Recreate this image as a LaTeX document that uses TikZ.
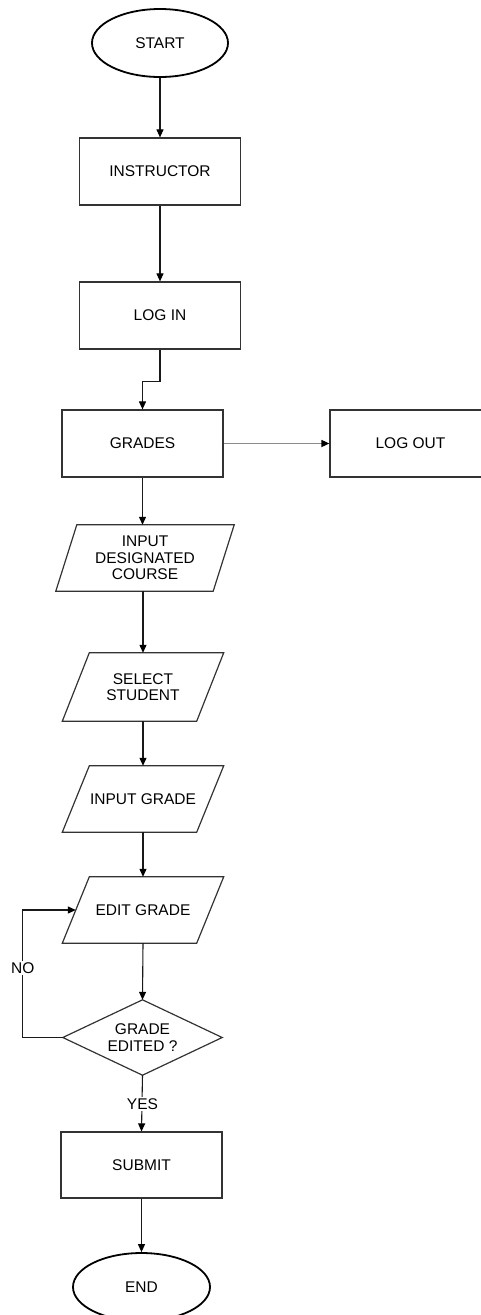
\documentclass[tikz,border=0pt]{standalone}
\usepackage{fontspec}
\setmainfont{Liberation Sans}
\usetikzlibrary{arrows.meta,shapes.geometric,calc}

\tikzset{
  base/.style={font=\fontsize{15.5}{16.5}\selectfont, text=black, align=center, inner sep=0pt},
  term/.style={base, ellipse, draw=black, line width=1.8pt, minimum width=136, minimum height=68},
  proc/.style={base, rectangle, draw=black!80, line width=1.2pt, minimum width=161, minimum height=67},
  io/.style={base, rectangle, minimum width=134, minimum height=66},
  outline/.style={draw=black!80, line width=1.2pt, line join=miter},
  arr/.style={draw=black!90, line width=1.1pt, -{Triangle[length=8pt,width=7pt,color=black]}},
  lbl/.style={base, fill=white, inner sep=1.5pt}
}

% slanted outline around an invisible rectangular node: name, half slant
\newcommand\slantbox[2]{%
  \draw[outline] ($(#1.north west)+(#2,0)$) -- ($(#1.north east)+(#2,0)$)
    -- ($(#1.south east)-(#2,0)$) -- ($(#1.south west)-(#2,0)$) -- cycle;}

\begin{document}
\begin{tikzpicture}[x=1pt, y=-1pt]
  \useasboundingbox (0,0) rectangle (480,1315);

  % terminals and process boxes
  \node[term] (start) at (160,43) {START};
  \node[proc] (instr) at (160,171.5) {INSTRUCTOR};
  \node[proc] (login) at (160,315.5) {LOG IN};
  \node[proc] (grades) at (142.5,443.5) {GRADES};
  \node[proc] (logout) at (410.5,443.5) {LOG OUT};

  % input / output steps
  \node[io, minimum width=157] (course) at (145,558) {INPUT\\DESIGNATED\\COURSE};
  \slantbox{course}{10.5}
  \node[io, minimum height=68] (select) at (143,687) {SELECT\\STUDENT};
  \slantbox{select}{13.5}
  \node[io] (ingrade) at (143,799) {INPUT GRADE};
  \slantbox{ingrade}{13.5}
  \node[io] (edit) at (143,910) {EDIT GRADE};
  \slantbox{edit}{13.5}

  % decision
  \node[base, minimum width=159, minimum height=75] (check) at (142.5,1037.5) {GRADE\\EDITED ?};
  \draw[outline] (check.north) -- (check.east) -- (check.south) -- (check.west) -- cycle;

  \node[proc, minimum height=66] (submit) at (141.5,1165) {SUBMIT};
  \node[term, minimum width=137] (finish) at (141.5,1287) {END};

  % connectors
  \draw[arr] (start) -- (instr);
  \draw[arr] (instr) -- (login);
  \draw[arr] (login.south) -- ++(0,32) -| (grades.north);
  \draw[arr, draw=black!45, line width=1.5pt] (grades.east) -- (logout.west);
  \draw[arr] (grades.south) -- (grades.south |- course.north);
  \draw[arr] (select.north |- course.south) -- (select.north);
  \draw[arr] (select) -- (ingrade);
  \draw[arr] (ingrade) -- (edit);
  \draw[arr] (edit.south) -- (check.north);
  \draw[arr] (check.west) -- ++(-40,0) coordinate (loopcorner) |- (edit.west);
  \node[lbl] (no) at (loopcorner |- 0,968) {NO};
  \draw[arr] (check.south) -- (submit.north);
  \node[lbl] (yes) at (check.south |- 0,1104) {YES};
  \draw[arr] (submit) -- (finish);
\end{tikzpicture}
\end{document}
